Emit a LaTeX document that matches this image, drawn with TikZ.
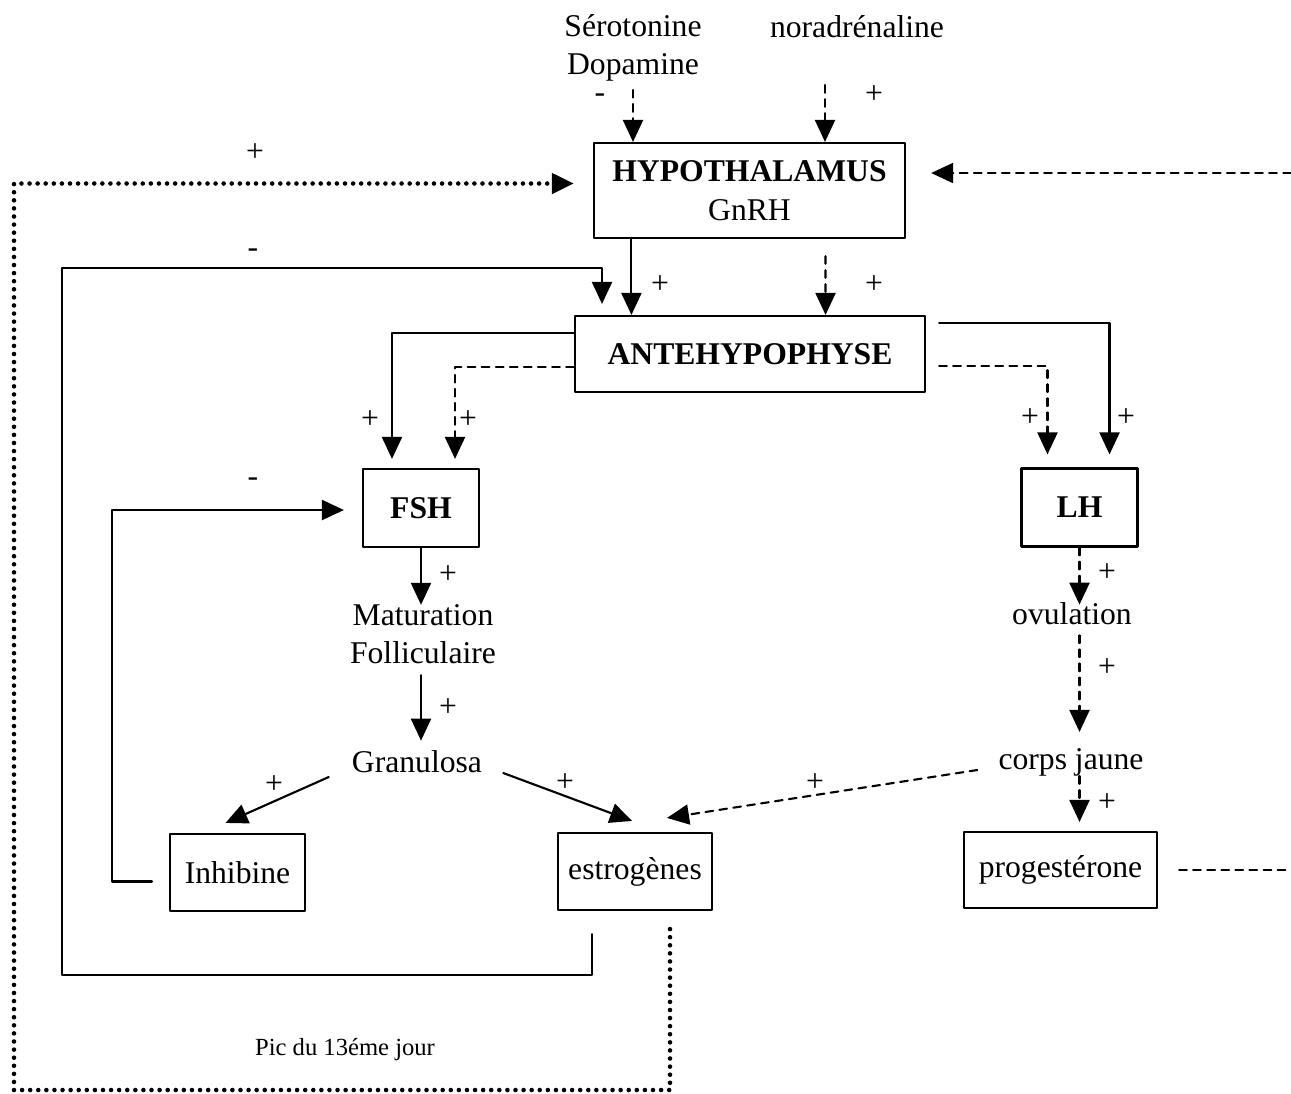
\documentclass[tikz,border=0pt]{standalone}
\usepackage{fontspec}
\setmainfont{Liberation Serif}
\usepackage{tikz}
\usetikzlibrary{arrows.meta, positioning, calc}
\tikzset{every node/.style={font=\fontsize{9}{11}\selectfont}, every path/.style={line cap=round, line join=round}, >={Triangle[length=2.2mm, width=2mm]}}
\tikzset{
    box/.style={draw, line width=0.6pt, inner sep=0pt},
    txt/.style={inner sep=1pt, align=center},
    sign/.style={inner sep=0pt},
    flow/.style={line width=0.6pt, ->},
    dsh/.style={line width=0.6pt, dash pattern=on 2.2pt off 1.8pt},
    dots/.style={line width=1.3pt, dash pattern=on 0pt off 2.3pt}
}

\begin{document}
\begin{tikzpicture}[x=0.01cm, y=-0.01cm]
    \useasboundingbox (0,0) rectangle (1291,1093);

    % boxes
    \node [box, minimum width=3.11cm, minimum height=0.95cm, align=center] (hyp) at (749.5,190.5) {\textbf{HYPOTHALAMUS}\\GnRH};
    \node [box, minimum width=3.50cm, minimum height=0.76cm] (ante) at (750,354) {\textbf{ANTEHYPOPHYSE}};
    \node [box, minimum width=1.16cm, minimum height=0.78cm] (fsh) at (421,508) {\textbf{FSH}};
    \node [box, minimum width=1.16cm, minimum height=0.78cm] (lh) at (1079.5,507.5) {\textbf{LH}};
    \node [box, minimum width=1.35cm, minimum height=0.77cm] (inh) at (237.5,872.5) {Inhibine};
    \node [box, minimum width=1.54cm, minimum height=0.77cm] (estro) at (635,871.5) {estrogènes};
    \node [box, minimum width=1.93cm, minimum height=0.76cm] (prog) at (1060.5,870) {progestérone};

    % free texts
    \node [txt] (sero) at (633,48) {Sérotonine\\Dopamine};
    \node [txt] (nora) at (857,27) {noradrénaline};
    \node [txt] (mat) at (423,634) {Maturation\\Folliculaire};
    \node [txt] (gran) at (417,762) {Granulosa};
    \node [txt] (ovu) at (1072,614) {ovulation};
    \node [txt] (cj) at (1071,762) {corps jaune};
    \node [txt, font=\fontsize{7}{8}\selectfont] (pic) at (345,1050) {Pic du 13éme jour};

    % signs
    \foreach \n/\s/\x/\y in {1/-/600/98, 2/+/874/95, 3/+/255/153, 4/-/253/253, 5/+/660/285,
        6/+/874/285, 7/+/370/420, 8/+/468/420, 9/+/1030/418, 10/+/1126/418, 11/-/253/482,
        12/+/448/575, 13/+/1107/573, 14/+/448/708, 15/+/1107/668, 16/+/274/785,
        17/+/565/783, 18/+/815/783, 19/+/1107/803}
        \node [sign] (s\n) at (\x,\y) {\s};

    \coordinate (noraIn) at (825,85);
    \coordinate (picR) at (670,1090);
    \coordinate (picL) at (14,1090);
    \coordinate (rtop) at (1291,173);
    \coordinate (rbot) at (1291,873);
    \coordinate (fbA) at (62,975);
    \coordinate (fbB) at (602,268);
    \coordinate (fbC) at (112,510);

    % inputs to the hypothalamus
    \draw [dsh, ->, shorten <=0.04cm] (sero.south) -- (sero.south |- hyp.north);
    \draw [dsh, ->] (noraIn) -- (noraIn |- hyp.north);
    \draw [dots, ->, shorten >=0.19cm] ([shift={(35,18)}]estro.south) -- (picR) -- (picL) |- ([yshift=0.07cm]hyp.west);
    \draw [dsh, ->, shorten >=0.25cm] (rtop) -- (rtop -| hyp.east);
    \draw [dsh] ([xshift=0.21cm]prog.east) -- (prog.east -| rbot);

    % hypothalamus to antehypophyse
    \draw [flow] ([xshift=-1.18cm]hyp.south) -- ([xshift=-1.18cm]hyp.south |- ante.north);
    \draw [dsh, ->] ([shift={(76,17)}]hyp.south) -- ([xshift=0.76cm]hyp.south |- ante.north);
    \draw [flow, shorten >=0.11cm] ([shift={(-43,23)}]estro.south) |- (fbA) |- (fbB) -- (fbB |- ante.north);

    % antehypophyse to FSH and LH
    \draw [flow, shorten >=0.09cm] ([yshift=0.21cm]ante.west) -| ([xshift=-0.29cm]fsh.north);
    \draw [dsh, ->, shorten >=0.09cm] ([yshift=-0.13cm]ante.west) -| ([xshift=0.34cm]fsh.north);
    \draw [flow, shorten >=0.13cm] ([shift={(13,-31)}]ante.east) -| ([xshift=0.3cm]lh.north);
    \draw [dsh, ->, shorten >=0.13cm] ([shift={(13,12)}]ante.east) -| ([xshift=-0.32cm]lh.north);

    % FSH branch
    \draw [flow, shorten >=0.18cm] ([shift={(-17,9)}]inh.west) -| (fbC) -- (fbC -| fsh.west);
    \draw [flow, shorten >=-0.05cm] (fsh.south) -- (fsh.south |- mat.north);
    \draw [flow, shorten <=0.07cm, shorten >=0.06cm] (fsh.south |- mat.south) -- (fsh.south |- gran.north);
    \draw [flow] ([shift={(-19,15)}]gran.west) -- ([shift={(-12,-10)}]inh.north);
    \draw [flow] ([shift={(17,11)}]gran.east) -- ([shift={(-3,-11)}]estro.north);

    % LH branch
    \draw [dsh, ->] ([shift={(-17,8)}]cj.west) -- ([shift={(32,-14)}]estro.north);
    \draw [dsh, ->] (lh.south) -- ([yshift=-0.06cm]lh.south |- ovu.north);
    \draw [dsh, ->, shorten <=0.06cm, shorten >=0.12cm] (ovu.south -| lh.south) -- (cj.north -| lh.south);
    \draw [dsh, ->, shorten <=-0.04cm, shorten >=0.09cm] (cj.south -| lh.south) -- (prog.north -| lh.south);
\end{tikzpicture}
\end{document}
